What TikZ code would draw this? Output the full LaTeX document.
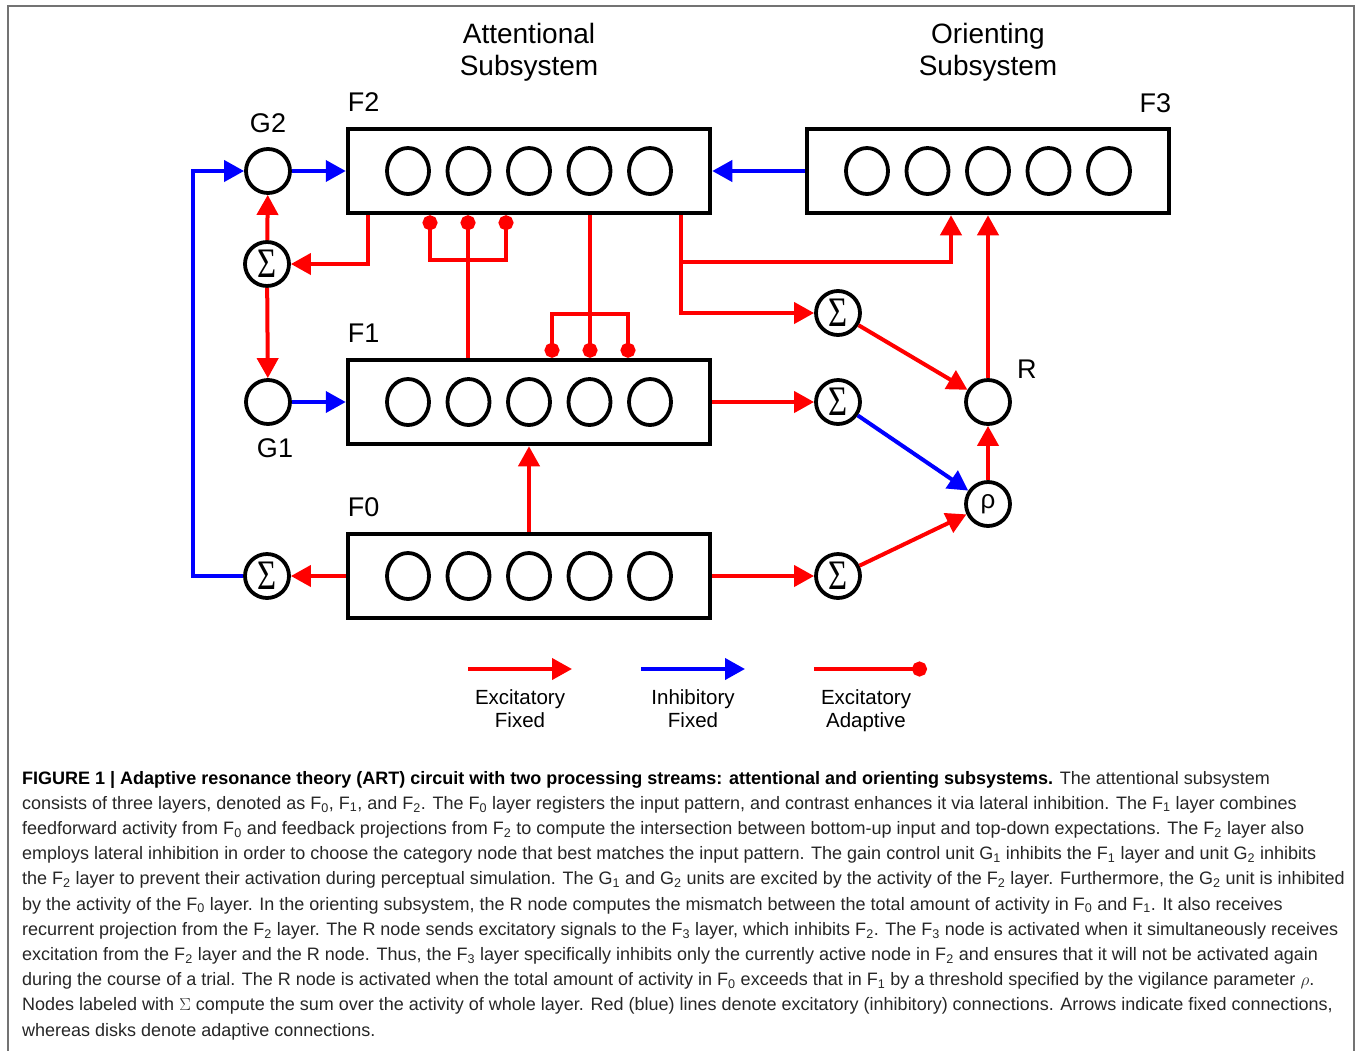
\documentclass[tikz,border=0pt]{standalone}
\usepackage[no-math]{fontspec}
\setmainfont{Liberation Sans}
\newfontfamily\capfont{Liberation Sans}
\newfontfamily\sigfont{Liberation Serif}
\usetikzlibrary{arrows.meta,shapes.geometric}
\definecolor{exc}{RGB}{255,0,0}
\definecolor{inh}{RGB}{0,0,255}
\newcommand{\sumsign}{\raisebox{-1pt}{\scalebox{0.78}[1]{\sigfont\fontsize{42}{42}\selectfont Σ}}}
\tikzset{
	layerbox/.style={draw,line width=4.5pt,minimum width=362pt,minimum height=84pt,inner sep=0pt},
	unit/.style={draw,ellipse,line width=3.8pt,minimum width=42pt,minimum height=46pt,inner sep=0pt},
	gate/.style={draw,circle,line width=3.8pt,minimum size=44pt,inner sep=0pt},
	lbl/.style={inner sep=0pt,font=\fontsize{27}{27}\selectfont},
	title/.style={align=center,font=\fontsize{28}{32}\selectfont},
	legend/.style={align=center,font=\fontsize{20.5}{23}\selectfont},
	exline/.style={exc,line width=4pt,-{Triangle[length=20pt,width=21pt]}},
	inline/.style={inh,line width=4pt,-{Triangle[length=20pt,width=21pt]}},
	adline/.style={exc,line width=4pt,-{Circle[length=15pt]}},
	plain/.style={exc,line width=4pt}
}
\begin{document}
\begin{tikzpicture}[x=1pt,y=-1pt]
	\useasboundingbox (0,0) rectangle (1357,1050);
	% frame
	\draw[black!55,line width=1.5pt] (8,1052) -- (8,6) -- (1354,6) -- (1354,1052);
	% titles
	\node[title] (att) at (529,52) {Attentional\\Subsystem};
	\node[title] (ori) at (988,52) {Orienting\\Subsystem};
	% layers
	\node[layerbox] (F2) at (529,171) {};
	\node[layerbox] (F3) at (988,171) {};
	\node[layerbox] (F1) at (529,402) {};
	\node[layerbox] (F0) at (529,576) {};
	\foreach \l in {F0,F1,F2,F3}
		\foreach \i in {-2,...,2}
			\node[unit] at ([xshift=\i*60.5pt]\l.center) {};
	\node[lbl,anchor=south west] at ([xshift=2pt,yshift=15pt]F2.north west) {F2};
	\node[lbl,anchor=south east] at ([yshift=14pt]F3.north east) {F3};
	\node[lbl,anchor=south west] at ([xshift=2pt,yshift=15pt]F1.north west) {F1};
	\node[lbl,anchor=south west] at ([xshift=2pt,yshift=15pt]F0.north west) {F0};
	% gain control and sums
	\node[gate] (G2) at (268,171) {};
	\node[gate] (SG) at (267,264) {\sumsign};
	\node[gate] (G1) at (268,402) {};
	\node[gate] (S0) at (267,576) {\sumsign};
	\node[gate] (S2) at (838,313) {\sumsign};
	\node[gate] (S1) at (838,402) {\sumsign};
	\node[gate] (Sb) at (838,576) {\sumsign};
	\node[gate] (R) at (988,402) {};
	\node[gate] (rho) at (988,504) {\fontsize{26}{26}\selectfont ρ};
	\node[lbl,anchor=south] at ([yshift=14pt]G2.north) {G2};
	\node[lbl,anchor=north] at ([xshift=7pt,yshift=-13pt]G1.south) {G1};
	\node[lbl,anchor=south west] at ([xshift=12pt,yshift=6pt]R.north east) {R};
	% inhibitory
	\coordinate (back) at (193,576);
	\draw[inline] (S0) -- (back) |- (G2);
	\draw[inline] (G2) -- (F2);
	\draw[inline] (F3) -- (F2);
	\draw[inline] (G1) -- (F1);
	\draw[inline] (S1) -- (rho);
	% excitatory fixed
	\draw[exline] ([xshift=-161pt]F2.south) |- (SG);
	\draw[exline] (SG) -- (G2);
	\draw[exline] (SG) -- (G1);
	\coordinate (tap) at (681,262);
	\draw[exline] (tap |- F2.south) |- (S2);
	\draw[exline] (tap) -| ([xshift=-37pt]F3.south);
	\draw[exline] (S2) -- (R);
	\draw[exline] (F1) -- (S1);
	\draw[exline] (F0) -- (Sb);
	\draw[exline] (Sb) -- (rho);
	\draw[exline] (rho) -- (R);
	\draw[exline] (R) -- (R |- F3.south);
	\draw[exline] (F0) -- (F1);
	\draw[exline] (F0) -- (S0);
	% excitatory adaptive
	\coordinate (up) at (468,260);
	\draw[plain] (up |- F1.north) -- (up);
	\foreach \d in {-38,0,38}
		\draw[adline] (up) -| ([xshift=\d pt]up |- F2.south);
	\coordinate (dn) at (590,314);
	\draw[plain] (dn |- F2.south) -- (dn);
	\foreach \d in {-38,0,38}
		\draw[adline] (dn) -| ([xshift=\d pt]dn |- F1.north);
	% legend
	\coordinate (ea) at (468,669);
	\coordinate (eb) at (572,669);
	\coordinate (ia) at (641,669);
	\coordinate (ib) at (745,669);
	\coordinate (aa) at (814,669);
	\coordinate (ab) at (927,669);
	\draw[exline] (ea) -- (eb);
	\draw[inline] (ia) -- (ib);
	\draw[adline] (aa) -- (ab);
	\node[legend] (le) at (520,709) {Excitatory\\Fixed};
	\node[legend] (li) at (693,709) {Inhibitory\\Fixed};
	\node[legend] (la) at (866,711) {Excitatory\\Adaptive};
	% caption
	\node[anchor=base west,inner sep=0pt,align=left,text=black!85,font=\capfont\fontsize{18}{25.2}\selectfont] (cap) at (22,1036) {%
		{\bfseries\color{black}FIGURE 1 | Adaptive resonance theory (ART) circuit with two processing streams: attentional and orienting subsystems.} The attentional subsystem\\
		consists of three layers, denoted as F\textsubscript{0}, F\textsubscript{1}, and F\textsubscript{2}. The F\textsubscript{0} layer registers the input pattern, and contrast enhances it via lateral inhibition. The F\textsubscript{1} layer combines\\
		feedforward activity from F\textsubscript{0} and feedback projections from F\textsubscript{2} to compute the intersection between bottom-up input and top-down expectations. The F\textsubscript{2} layer also\\
		employs lateral inhibition in order to choose the category node that best matches the input pattern. The gain control unit G\textsubscript{1} inhibits the F\textsubscript{1} layer and unit G\textsubscript{2} inhibits\\
		the F\textsubscript{2} layer to prevent their activation during perceptual simulation. The G\textsubscript{1} and G\textsubscript{2} units are excited by the activity of the F\textsubscript{2} layer. Furthermore, the G\textsubscript{2} unit is inhibited\\
		by the activity of the F\textsubscript{0} layer. In the orienting subsystem, the R node computes the mismatch between the total amount of activity in F\textsubscript{0} and F\textsubscript{1}. It also receives\\
		recurrent projection from the F\textsubscript{2} layer. The R node sends excitatory signals to the F\textsubscript{3} layer, which inhibits F\textsubscript{2}. The F\textsubscript{3} node is activated when it simultaneously receives\\
		excitation from the F\textsubscript{2} layer and the R node. Thus, the F\textsubscript{3} layer specifically inhibits only the currently active node in F\textsubscript{2} and ensures that it will not be activated again\\
		during the course of a trial. The R node is activated when the total amount of activity in F\textsubscript{0} exceeds that in F\textsubscript{1} by a threshold specified by the vigilance parameter $\rho$.\\
		Nodes labeled with $\Sigma$ compute the sum over the activity of whole layer. Red (blue) lines denote excitatory (inhibitory) connections. Arrows indicate fixed connections,\\
		whereas disks denote adaptive connections.};
\end{tikzpicture}
\end{document}
